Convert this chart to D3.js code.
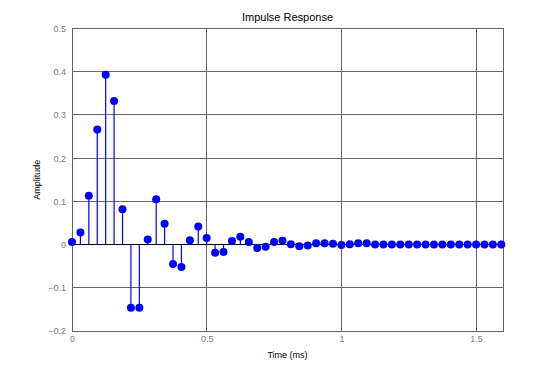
<!DOCTYPE html>
<html>
<head>
<meta charset="utf-8">
<script src="https://cdn.jsdelivr.net/npm/d3@7"></script>
<style>
  body { margin: 0; background: #fff; }
  text { font-family: "Liberation Sans", Arial, sans-serif; }
</style>
</head>
<body>
<svg id="chart" width="555" height="372"></svg>
<script>
// echantillons a 32 kHz -> pas de 1/32 ms
var sample_step = 1 / 32;
var amplitudes = [
  0.006, 0.028, 0.113, 0.266, 0.393, 0.332, 0.082, -0.146, -0.146, 0.012,
  0.105, 0.048, -0.045, -0.052, 0.010, 0.042, 0.015, -0.019, -0.017, 0.008,
  0.018, 0.006, -0.008, -0.005, 0.006, 0.009, 0.001, -0.004, -0.002, 0.003,
  0.003, 0.002, -0.001, 0.001, 0.003, 0.003, 0.000, 0.000, 0.000, 0.000,
  0.000, 0.000, 0.000, 0.000, 0.000, 0.000, 0.000, 0.000, 0.000, 0.000,
  0.000, 0.000
];
var x_ticks = [0, 0.5, 1, 1.5];
var y_ticks = [-0.2, -0.1, 0, 0.1, 0.2, 0.3, 0.4, 0.5];

var svg = d3.select("#chart");
// attention: "top" est deja pris par window.top
var plot_left = 72, plot_right = 503, plot_top = 28.5, plot_bottom = 331;

var x = d3.scaleLinear().domain([0, 1.6]).range([plot_left, plot_right]);
var y = d3.scaleLinear().domain([-0.2, 0.5]).range([plot_bottom, plot_top]);

var data = amplitudes.map(function(v, i) { return { t: i * sample_step, v: v }; });

var grid_color = "#666";

// grille
svg.append("g")
   .selectAll("line")
   .data(x_ticks.slice(1))
   .enter()
   .append("line")
   .attr("x1", function(d) { return x(d); })
   .attr("x2", function(d) { return x(d); })
   .attr("y1", plot_top)
   .attr("y2", plot_bottom)
   .attr("stroke", grid_color)
   .attr("shape-rendering", "crispEdges");

svg.append("g")
   .selectAll("line")
   .data(y_ticks.slice(1, -1))
   .enter()
   .append("line")
   .attr("x1", plot_left)
   .attr("x2", plot_right)
   .attr("y1", function(d) { return y(d); })
   .attr("y2", function(d) { return y(d); })
   .attr("stroke", grid_color)
   .attr("shape-rendering", "crispEdges");

// cadre
svg.append("rect")
   .attr("x", plot_left)
   .attr("y", plot_top)
   .attr("width", plot_right - plot_left)
   .attr("height", plot_bottom - plot_top)
   .attr("fill", "none")
   .attr("stroke", grid_color)
   .attr("shape-rendering", "crispEdges");

// axes (etiquettes seulement, les traits sont dans la grille)
var xAxis = svg.append("g")
   .attr("transform", "translate(0," + plot_bottom + ")")
   .call(d3.axisBottom(x).tickValues(x_ticks).tickSize(0).tickPadding(5)
         .tickFormat(function(d) { return d3.format("")(d); }));
var yAxis = svg.append("g")
   .attr("transform", "translate(" + plot_left + ",0)")
   .call(d3.axisLeft(y).tickValues(y_ticks).tickSize(0).tickPadding(6)
         .tickFormat(function(d) { return d3.format("")(Math.round(d * 10) / 10); }));

[xAxis, yAxis].forEach(function(a) {
    a.select(".domain").remove();
    a.selectAll("text")
     .style("font-family", "Liberation Sans, Arial, sans-serif")
     .style("font-size", "9px")
     .attr("fill", "#7a7a7a");
});

// ligne de base
svg.append("line")
   .attr("x1", plot_left)
   .attr("x2", plot_right)
   .attr("y1", y(0))
   .attr("y2", y(0))
   .attr("stroke", "#000")
   .attr("shape-rendering", "crispEdges");

// tiges
svg.append("g")
   .selectAll("line")
   .data(data)
   .enter()
   .append("line")
   .attr("x1", function(d) { return x(d.t); })
   .attr("x2", function(d) { return x(d.t); })
   .attr("y1", y(0))
   .attr("y2", function(d) { return y(d.v); })
   .attr("stroke", "#0000ff")
   .attr("stroke-width", 1.2);

// marqueurs
svg.append("g")
   .selectAll("circle")
   .data(data)
   .enter()
   .append("circle")
   .attr("cx", function(d) { return x(d.t); })
   .attr("cy", function(d) { return y(d.v); })
   .attr("r", 4)
   .attr("fill", "#0000ff");

// titres
svg.append("text")
   .attr("x", (plot_left + plot_right) / 2)
   .attr("y", 21)
   .attr("text-anchor", "middle")
   .style("font-size", "11px")
   .text("Impulse Response");

svg.append("text")
   .attr("x", (plot_left + plot_right) / 2)
   .attr("y", 358)
   .attr("text-anchor", "middle")
   .style("font-size", "9px")
   .text("Time (ms)");

svg.append("text")
   .attr("transform", "translate(40," + ((plot_top + plot_bottom) / 2) + ") rotate(-90)")
   .attr("text-anchor", "middle")
   .style("font-size", "9px")
   .text("Amplitude");
</script>
</body>
</html>
